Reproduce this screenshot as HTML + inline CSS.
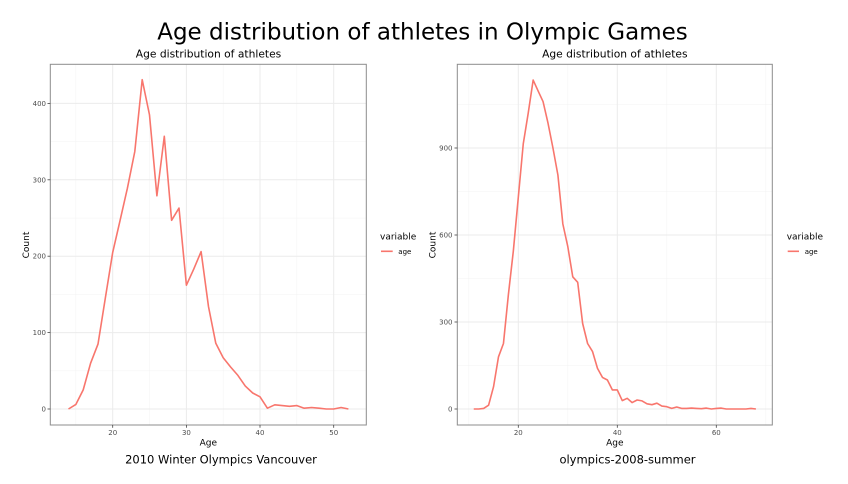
<!DOCTYPE html>
<html><head><meta charset="utf-8"><style>
html,body{margin:0;padding:0;background:#fff;}
svg{display:block;font-family:"DejaVu Sans","Liberation Sans",sans-serif;}
</style></head><body>
<svg width="848" height="484" viewBox="0 0 848 484" xmlns="http://www.w3.org/2000/svg">
<rect width="848" height="484" fill="#fff"/>
<text x="422.5" y="39.3" font-size="23" text-anchor="middle" fill="#000">Age distribution of athletes in Olympic Games</text>

<!-- LEFT PANEL -->
<text x="208.5" y="57.3" font-size="10.7" text-anchor="middle" fill="#000">Age distribution of athletes</text>
<g stroke="#f3f3f3" stroke-width="0.5" fill="none">
<line x1="50.3" x2="366.3" y1="370.8" y2="370.8"/><line x1="50.3" x2="366.3" y1="294.5" y2="294.5"/>
<line x1="50.3" x2="366.3" y1="218.1" y2="218.1"/><line x1="50.3" x2="366.3" y1="141.7" y2="141.7"/>
<line x1="75.9" x2="75.9" y1="64.3" y2="425"/><line x1="149.5" x2="149.5" y1="64.3" y2="425"/>
<line x1="223.2" x2="223.2" y1="64.3" y2="425"/><line x1="296.9" x2="296.9" y1="64.3" y2="425"/>
</g>
<g stroke="#ebebeb" stroke-width="1" fill="none">
<line x1="50.3" x2="366.3" y1="409" y2="409"/><line x1="50.3" x2="366.3" y1="332.6" y2="332.6"/>
<line x1="50.3" x2="366.3" y1="256.2" y2="256.2"/><line x1="50.3" x2="366.3" y1="179.8" y2="179.8"/>
<line x1="50.3" x2="366.3" y1="103.4" y2="103.4"/>
<line x1="112.7" x2="112.7" y1="64.3" y2="425"/><line x1="186.4" x2="186.4" y1="64.3" y2="425"/>
<line x1="260" x2="260" y1="64.3" y2="425"/><line x1="333.7" x2="333.7" y1="64.3" y2="425"/>
</g>
<polyline fill="none" stroke="#F8766D" stroke-width="1.6" stroke-linejoin="round" points="68.5,409 75.9,404.4 83.2,389.9 90.6,363.2 98.0,344.1 105.3,298.2 112.7,252.4 120.1,220.3 127.4,188.2 134.8,151.5 142.2,79.7 149.5,114.9 156.9,195.8 164.3,136.3 171.6,220.3 179.0,208.1 186.4,285.2 193.7,269.2 201.1,251.6 208.5,306.6 215.8,343.3 223.2,357.8 230.6,367.0 237.9,375.4 245.3,386.1 252.7,393.0 260.0,396.8 267.4,408.2 274.8,404.8 282.1,405.6 289.5,406.3 296.9,405.6 304.2,408.2 311.6,407.5 319.0,408.2 326.3,409 333.7,409 341.1,407.5 348.4,409"/>
<rect x="50.3" y="64.3" width="316" height="360.7" fill="none" stroke="#8c8c8c" stroke-width="1"/>
<g stroke="#444" stroke-width="0.8">
<line x1="47.5" x2="50.3" y1="409" y2="409"/><line x1="47.5" x2="50.3" y1="332.6" y2="332.6"/>
<line x1="47.5" x2="50.3" y1="256.2" y2="256.2"/><line x1="47.5" x2="50.3" y1="179.8" y2="179.8"/>
<line x1="47.5" x2="50.3" y1="103.4" y2="103.4"/>
<line x1="112.7" x2="112.7" y1="425" y2="427.8"/><line x1="186.4" x2="186.4" y1="425" y2="427.8"/>
<line x1="260" x2="260" y1="425" y2="427.8"/><line x1="333.7" x2="333.7" y1="425" y2="427.8"/>
</g>
<g font-size="7" fill="#4d4d4d" text-anchor="end">
<text x="46" y="411.5">0</text><text x="46" y="335.1">100</text><text x="46" y="258.7">200</text>
<text x="46" y="182.3">300</text><text x="46" y="105.9">400</text>
</g>
<g font-size="7" fill="#4d4d4d" text-anchor="middle">
<text x="112.7" y="435">20</text><text x="186.4" y="435">30</text><text x="260" y="435">40</text><text x="333.7" y="435">50</text>
</g>
<text x="208.3" y="445.5" font-size="9" text-anchor="middle" fill="#000">Age</text>
<text transform="translate(29.2,245) rotate(-90)" font-size="9" text-anchor="middle" fill="#000">Count</text>
<text x="380" y="239.3" font-size="9" fill="#000">variable</text>
<line x1="381" x2="392.7" y1="251.3" y2="251.3" stroke="#F8766D" stroke-width="1.6"/>
<text x="398.3" y="253.8" font-size="7" fill="#000">age</text>
<text x="221" y="463.3" font-size="11.5" text-anchor="middle" fill="#000">2010 Winter Olympics Vancouver</text>

<!-- RIGHT PANEL -->
<text x="614.8" y="57.3" font-size="10.7" text-anchor="middle" fill="#000">Age distribution of athletes</text>
<g stroke="#f3f3f3" stroke-width="0.5" fill="none">
<line x1="457.3" x2="772.3" y1="365.5" y2="365.5"/><line x1="457.3" x2="772.3" y1="278.5" y2="278.5"/>
<line x1="457.3" x2="772.3" y1="191.5" y2="191.5"/><line x1="457.3" x2="772.3" y1="104.5" y2="104.5"/>
<line x1="468.8" x2="468.8" y1="64.3" y2="425"/><line x1="567.8" x2="567.8" y1="64.3" y2="425"/>
<line x1="666.8" x2="666.8" y1="64.3" y2="425"/><line x1="765.8" x2="765.8" y1="64.3" y2="425"/>
</g>
<g stroke="#ebebeb" stroke-width="1" fill="none">
<line x1="457.3" x2="772.3" y1="409" y2="409"/><line x1="457.3" x2="772.3" y1="322" y2="322"/>
<line x1="457.3" x2="772.3" y1="235" y2="235"/><line x1="457.3" x2="772.3" y1="148" y2="148"/>
<line x1="518.3" x2="518.3" y1="64.3" y2="425"/><line x1="617.3" x2="617.3" y1="64.3" y2="425"/>
<line x1="716.3" x2="716.3" y1="64.3" y2="425"/>
</g>
<polyline fill="none" stroke="#F8766D" stroke-width="1.6" stroke-linejoin="round" points="473.75,409 478.7,409 483.65,408.4 488.6,405.2 493.55,386.7 498.5,356.8 503.45,343.5 508.4,294.5 513.35,250.9 518.3,197.3 523.25,143.9 528.2,113.2 533.15,80.1 538.1,90.9 543.05,101.6 548.0,123.1 552.95,148 557.9,175 562.85,224 567.8,246.6 572.75,276.8 577.7,282.3 582.65,323.5 587.6,343.5 592.55,351.6 597.5,368.4 602.45,377.4 607.4,380 612.35,389.9 617.3,389.9 622.25,400.6 627.2,398.3 632.15,402.6 637.1,400 642.05,400.9 647.0,403.8 651.95,404.7 656.9,403.2 661.85,406.1 666.8,406.7 671.75,408.4 676.7,407 681.65,408.4 686.6,408.4 691.55,408.1 696.5,408.4 701.45,408.7 706.4,408.1 711.35,409 716.3,408.4 721.25,408.1 726.2,409 731.15,409 736.1,409 741.05,409 746,409 750.95,408.4 755.9,409"/>
<rect x="457.3" y="64.3" width="315" height="360.7" fill="none" stroke="#8c8c8c" stroke-width="1"/>
<g stroke="#444" stroke-width="0.8">
<line x1="454.5" x2="457.3" y1="409" y2="409"/><line x1="454.5" x2="457.3" y1="322" y2="322"/>
<line x1="454.5" x2="457.3" y1="235" y2="235"/><line x1="454.5" x2="457.3" y1="148" y2="148"/>
<line x1="518.3" x2="518.3" y1="425" y2="427.8"/><line x1="617.3" x2="617.3" y1="425" y2="427.8"/>
<line x1="716.3" x2="716.3" y1="425" y2="427.8"/>
</g>
<g font-size="7" fill="#4d4d4d" text-anchor="end">
<text x="452.5" y="411.5">0</text><text x="452.5" y="324.5">300</text><text x="452.5" y="237.5">600</text><text x="452.5" y="150.5">900</text>
</g>
<g font-size="7" fill="#4d4d4d" text-anchor="middle">
<text x="518.3" y="435">20</text><text x="617.3" y="435">40</text><text x="716.3" y="435">60</text>
</g>
<text x="614.8" y="445.5" font-size="9" text-anchor="middle" fill="#000">Age</text>
<text transform="translate(435.7,245) rotate(-90)" font-size="9" text-anchor="middle" fill="#000">Count</text>
<text x="786.7" y="239.3" font-size="9" fill="#000">variable</text>
<line x1="787.7" x2="799" y1="251.3" y2="251.3" stroke="#F8766D" stroke-width="1.6"/>
<text x="804.7" y="253.8" font-size="7" fill="#000">age</text>
<text x="627.5" y="463.3" font-size="11.5" text-anchor="middle" fill="#000">olympics-2008-summer</text>
</svg>
</body></html>
